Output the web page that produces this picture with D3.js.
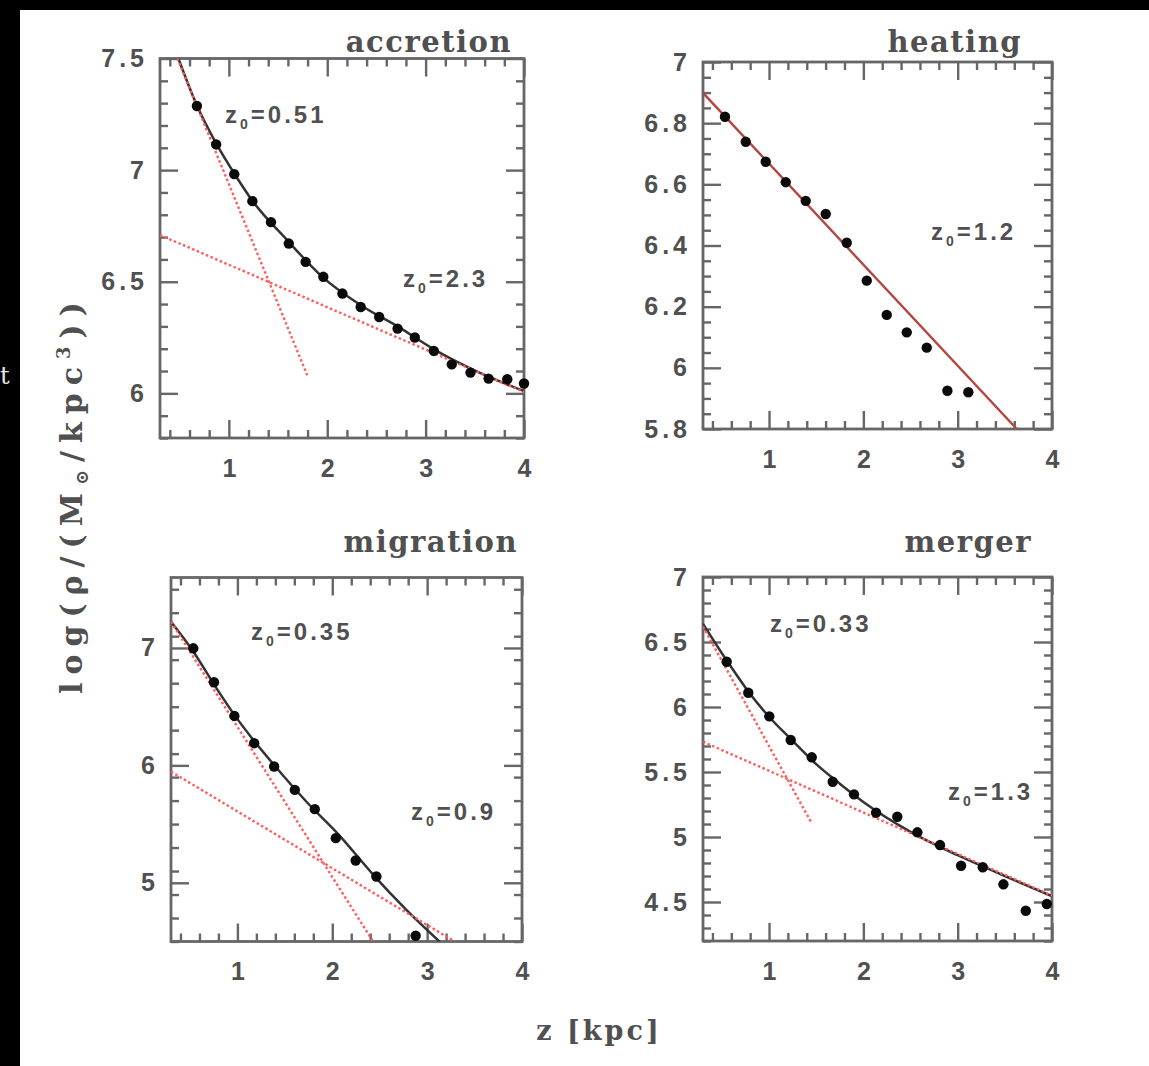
<!DOCTYPE html>
<html>
<head>
<meta charset="utf-8">
<script src="https://cdn.jsdelivr.net/npm/d3@7"></script>
<style>
html, body { margin: 0; padding: 0; background: #000; }
svg { display: block; }
</style>
</head>
<body>
<svg id="chart" width="1149" height="1066"></svg>
<script>
// ---- data ----
var xTicks = [1, 2, 3, 4];

// accretion
var accretionZ = [0.675, 0.871, 1.055, 1.239, 1.428, 1.609, 1.78, 1.96, 2.154, 2.34, 2.528, 2.715, 2.89, 3.083, 3.266, 3.456, 3.64, 3.83, 4.0];
var accretionRho = [7.287, 7.115, 6.982, 6.861, 6.767, 6.671, 6.589, 6.522, 6.447, 6.387, 6.342, 6.29, 6.25, 6.19, 6.13, 6.093, 6.066, 6.063, 6.044];
var accretionFit = [[0.487, 7.5], [0.674, 7.291], [0.871, 7.12], [1.055, 6.985], [1.239, 6.863], [1.593, 6.686], [1.95, 6.522], [2.341, 6.395], [2.715, 6.3], [3.089, 6.196], [3.497, 6.103], [4.0, 6.01]];
var accretionThin = [[0.477, 7.5], [1.797, 6.081]];
var accretionThick = [[0.3, 6.709], [4.0, 6.006]];
var accretionYTicks = [6, 6.5, 7, 7.5];
var accretionLabels = ["0.51", "2.3"];

// heating
var heatingZ = [0.533, 0.753, 0.965, 1.177, 1.389, 1.601, 1.824, 2.036, 2.248, 2.46, 2.672, 2.891, 3.113];
var heatingRho = [6.821, 6.739, 6.674, 6.607, 6.546, 6.503, 6.409, 6.285, 6.173, 6.116, 6.066, 5.925, 5.92];
var heatingFit = [[0.3, 6.899], [3.627, 5.8]];
var heatingYTicks = [5.8, 6, 6.2, 6.4, 6.6, 6.8, 7];
var heatingLabels = ["1.2"];

// migration
var migrationZ = [0.535, 0.753, 0.968, 1.177, 1.387, 1.605, 1.816, 2.037, 2.247, 2.465, 2.879];
var migrationRho = [6.997, 6.708, 6.421, 6.189, 5.99, 5.791, 5.627, 5.38, 5.19, 5.054, 4.549];
var migrationFit = [[0.3, 7.224], [0.535, 6.97], [0.753, 6.69], [0.968, 6.43], [1.184, 6.2], [1.4, 5.99], [1.728, 5.69], [2.079, 5.4], [2.43, 5.07], [2.781, 4.77], [3.13, 4.5]];
var migrationThin = [[0.3, 7.224], [2.43, 4.5]];
var migrationThick = [[0.3, 5.947], [3.29, 4.5]];
var migrationYTicks = [5, 6, 7];
var migrationLabels = ["0.35", "0.9"];

// merger
var mergerZ = [0.551, 0.78, 1.003, 1.23, 1.453, 1.675, 1.901, 2.135, 2.36, 2.573, 2.813, 3.036, 3.266, 3.485, 3.722, 3.945];
var mergerRho = [6.348, 6.11, 5.928, 5.746, 5.613, 5.425, 5.328, 5.187, 5.156, 5.036, 4.938, 4.779, 4.767, 4.636, 4.433, 4.485];
var mergerFit = [[0.3, 6.64], [0.55, 6.36], [0.8, 6.1], [1.0, 5.925], [1.25, 5.74], [1.5, 5.56], [1.75, 5.41], [2.0, 5.27], [2.5, 5.04], [3.0, 4.86], [3.5, 4.7], [4.0, 4.545]];
var mergerThin = [[0.3, 6.618], [1.453, 5.105]];
var mergerThick = [[0.3, 5.733], [4.0, 4.549]];
var mergerYTicks = [4.5, 5, 5.5, 6, 6.5, 7];
var mergerLabels = ["0.33", "1.3"];

// ---- layout ----
var panels = [
  { title: "accretion", z: accretionZ, rho: accretionRho, fit: accretionFit, parts: [accretionThin, accretionThick],
    yTicks: accretionYTicks, yDomain: [5.8, 7.5], yMinor: 0.1, labels: accretionLabels,
    box: [160, 58.5, 524, 438], titleAt: [512, 52], labelAt: [[225, 123], [403, 287]] },
  { title: "heating", z: heatingZ, rho: heatingRho, fit: heatingFit, parts: [],
    yTicks: heatingYTicks, yDomain: [5.8, 7], yMinor: 0.05, labels: heatingLabels,
    box: [703, 62, 1052, 429], titleAt: [1022, 52], labelAt: [[931, 240]] },
  { title: "migration", z: migrationZ, rho: migrationRho, fit: migrationFit, parts: [migrationThin, migrationThick],
    yTicks: migrationYTicks, yDomain: [4.5, 7.6], yMinor: 0.2, labels: migrationLabels,
    box: [171, 577.5, 522, 941.5], titleAt: [518, 552], labelAt: [[251, 640], [411, 820]] },
  { title: "merger", z: mergerZ, rho: mergerRho, fit: mergerFit, parts: [mergerThin, mergerThick],
    yTicks: mergerYTicks, yDomain: [4.2, 7], yMinor: 0.1, labels: mergerLabels,
    box: [703, 577, 1052, 941], titleAt: [1032, 552], labelAt: [[770, 632], [948, 800]] }
];

var ink = "#505050";
var svg = d3.select("#chart");

svg.append("rect")
  .attr("x", 20).attr("y", 10)
  .attr("width", 1129).attr("height", 1056)
  .attr("fill", "#fff");

svg.append("text")
  .attr("x", 0).attr("y", 384)
  .attr("fill", "#e6e6e6")
  .style("font", "24px 'DejaVu Serif'")
  .text("t");

var defs = svg.append("defs");

function minorRange(lo, hi, step, majors) {
  var out = [];
  var n = Math.round((hi - lo) / step);
  for (var i = 0; i <= n; i++) {
    var v = +(lo + i * step).toFixed(3);
    if (majors.indexOf(v) < 0) out.push(v);
  }
  return out;
}

function styleAxis(sel, withText) {
  sel.select(".domain").remove();
  sel.selectAll(".tick line").attr("stroke", "#666").attr("stroke-width", 2.4);
  if (withText) {
    sel.selectAll(".tick text")
      .attr("fill", ink)
      .style("font-family", "'Liberation Sans', Arial, sans-serif")
      .style("font-weight", "bold")
      .style("font-size", "25px")
      .style("letter-spacing", "4px");
  } else {
    sel.selectAll(".tick text").remove();
  }
}

panels.forEach(function (p, i) {
  var x = d3.scaleLinear().domain([0.3, 4]).range([p.box[0], p.box[2]]);
  var y = d3.scaleLinear().domain(p.yDomain).range([p.box[3], p.box[1]]);
  var w = p.box[2] - p.box[0], h = p.box[3] - p.box[1];
  var g = svg.append("g");

  defs.append("clipPath").attr("id", "clip" + i)
    .append("rect").attr("x", p.box[0]).attr("y", p.box[1]).attr("width", w).attr("height", h);

  // ticks: major and minor, all four sides, pointing inward
  var xMinor = minorRange(0.4, 3.8, 0.2, xTicks);
  var yMinor = minorRange(p.yDomain[0], p.yDomain[1], p.yMinor, p.yTicks);
  var big = 18, small = 8;

  var bottom = g.append("g").attr("transform", "translate(0," + p.box[3] + ")")
    .call(d3.axisBottom(x).tickValues(xTicks).tickSize(-big).tickPadding(21).tickFormat(d3.format("d")))
    .call(styleAxis, true);
  bottom.selectAll(".tick text").attr("dx", "2px");
  g.append("g").attr("transform", "translate(0," + p.box[3] + ")")
    .call(d3.axisBottom(x).tickValues(xMinor).tickSize(-small)).call(styleAxis, false);
  g.append("g").attr("transform", "translate(0," + p.box[1] + ")")
    .call(d3.axisTop(x).tickValues(xTicks).tickSize(-big)).call(styleAxis, false);
  g.append("g").attr("transform", "translate(0," + p.box[1] + ")")
    .call(d3.axisTop(x).tickValues(xMinor).tickSize(-small)).call(styleAxis, false);

  g.append("g").attr("transform", "translate(" + p.box[0] + ",0)")
    .call(d3.axisLeft(y).tickValues(p.yTicks).tickSize(-big).tickPadding(12).tickFormat(function (d) { return String(d); }))
    .call(styleAxis, true);
  g.append("g").attr("transform", "translate(" + p.box[0] + ",0)")
    .call(d3.axisLeft(y).tickValues(yMinor).tickSize(-small)).call(styleAxis, false);
  g.append("g").attr("transform", "translate(" + p.box[2] + ",0)")
    .call(d3.axisRight(y).tickValues(p.yTicks).tickSize(-big)).call(styleAxis, false);
  g.append("g").attr("transform", "translate(" + p.box[2] + ",0)")
    .call(d3.axisRight(y).tickValues(yMinor).tickSize(-small)).call(styleAxis, false);

  g.append("rect")
    .attr("x", p.box[0]).attr("y", p.box[1])
    .attr("width", w).attr("height", h)
    .attr("fill", "none").attr("stroke", "#666").attr("stroke-width", 2.8);

  var line = d3.line().x(function (d) { return x(d[0]); }).y(function (d) { return y(d[1]); });
  var plot = g.append("g").attr("clip-path", "url(#clip" + i + ")");

  if (p.parts.length) {
    plot.append("path").datum(p.fit)
      .attr("d", line.curve(d3.curveMonotoneX))
      .attr("fill", "none").attr("stroke", "#333").attr("stroke-width", 2.5);
    p.parts.forEach(function (seg) {
      plot.append("path").datum(seg)
        .attr("d", line.curve(d3.curveLinear))
        .attr("fill", "none").attr("stroke", "#ff5c5c").attr("stroke-width", 2.4)
        .attr("stroke-dasharray", "2.5,2.5");
    });
  } else {
    plot.append("path").datum(p.fit)
      .attr("d", line.curve(d3.curveLinear))
      .attr("fill", "none").attr("stroke", "#b3473f").attr("stroke-width", 2.4);
  }

  g.selectAll("circle.pt").data(p.z).enter().append("circle")
    .attr("class", "pt")
    .attr("cx", function (d) { return x(d); })
    .attr("cy", function (d, k) { return y(p.rho[k]); })
    .attr("r", 5.2)
    .attr("fill", "#0a0a0a");

  g.append("text")
    .attr("x", p.titleAt[0]).attr("y", p.titleAt[1])
    .attr("text-anchor", "end")
    .attr("fill", ink)
    .style("font-family", "'DejaVu Serif', serif")
    .style("font-weight", "bold")
    .style("font-size", "29px")
    .style("letter-spacing", "1.5px")
    .text(p.title);

  p.labels.forEach(function (lab, k) {
    var t = g.append("text")
      .attr("x", p.labelAt[k][0]).attr("y", p.labelAt[k][1])
      .attr("fill", ink)
      .style("font-family", "'Liberation Sans', Arial, sans-serif")
      .style("font-weight", "bold")
      .style("font-size", "24px")
      .style("letter-spacing", "3px");
    t.append("tspan").text("z");
    t.append("tspan").attr("dy", 6).style("font-size", "14px").text("0");
    t.append("tspan").attr("dy", -6).text("=" + lab);
  });
});

// axis titles
var yl = svg.append("text")
  .attr("transform", "translate(82,494) rotate(-90)")
  .attr("text-anchor", "middle")
  .attr("fill", ink)
  .style("font-family", "'DejaVu Serif', serif")
  .style("font-weight", "bold")
  .style("font-size", "30px")
  .style("letter-spacing", "8px");
yl.append("tspan").text("log(\u03c1/(M");
yl.append("tspan").attr("dy", 6).style("font-size", "18px").text("\u2299");
yl.append("tspan").attr("dy", -6).text("/kpc");
yl.append("tspan").attr("dy", -12).style("font-size", "18px").text("3");
yl.append("tspan").attr("dy", 12).text("))");

svg.append("text")
  .attr("x", 599).attr("y", 1040)
  .attr("text-anchor", "middle")
  .attr("fill", ink)
  .style("font-family", "'DejaVu Serif', serif")
  .style("font-weight", "bold")
  .style("font-size", "27px")
  .style("letter-spacing", "3px")
  .text("z [kpc]");
</script>
</body>
</html>
